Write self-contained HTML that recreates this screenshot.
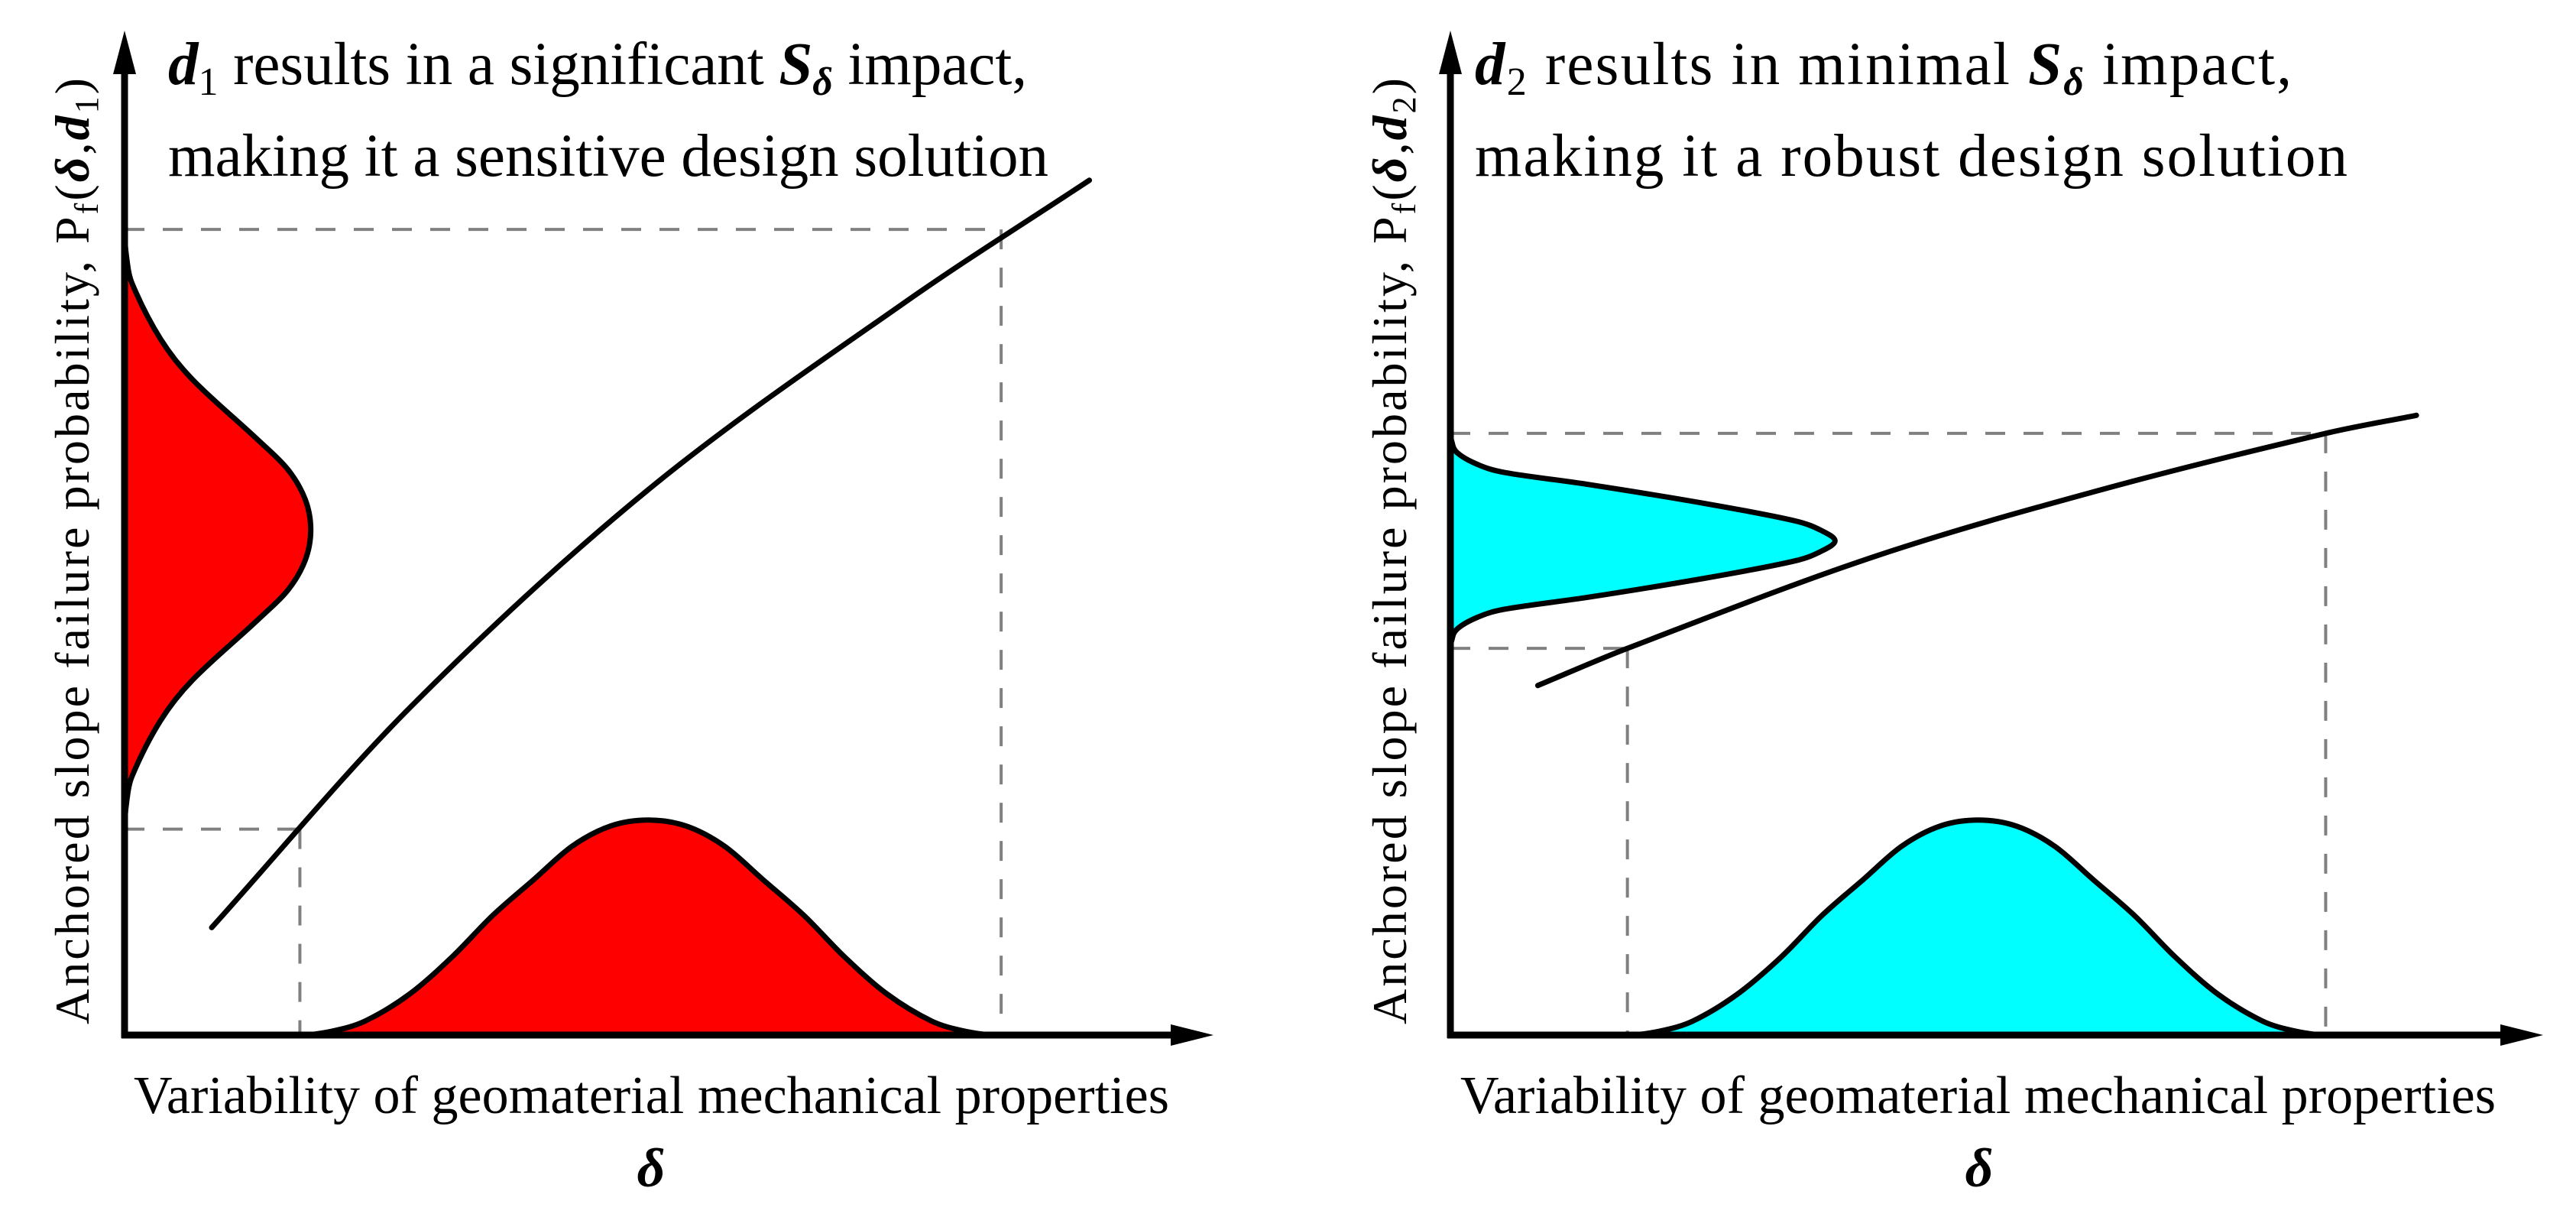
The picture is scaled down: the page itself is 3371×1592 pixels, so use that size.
<!DOCTYPE html>
<html><head><meta charset="utf-8"><style>
html,body{margin:0;padding:0;background:#fff}
svg{display:block}
text{font-family:"Liberation Serif","Times New Roman","DejaVu Serif",serif;fill:#000}
</style></head><body>
<svg id="fig" width="3371" height="1592" viewBox="0 0 3371 1592" xmlns="http://www.w3.org/2000/svg" font-family="Liberation Serif, Times New Roman, DejaVu Serif, serif">
<g id="left"></g>
<g id="right"></g>
<text x="220" y="110" font-size="79" textLength="1124"><tspan font-weight="bold" font-style="italic">d</tspan><tspan font-size="52" dy="14">1</tspan><tspan dy="-14"> results in a significant </tspan><tspan font-weight="bold" font-style="italic">S</tspan><tspan font-size="52" dy="14" font-weight="bold" font-style="italic">δ</tspan><tspan dy="-14"> impact,</tspan></text>
<text x="220" y="230" font-size="79" textLength="1152">making it a sensitive design solution</text>
<text x="1930" y="110" font-size="79" textLength="1069"><tspan font-weight="bold" font-style="italic">d</tspan><tspan font-size="52" dy="14">2</tspan><tspan dy="-14"> results in minimal </tspan><tspan font-weight="bold" font-style="italic">S</tspan><tspan font-size="52" dy="14" font-weight="bold" font-style="italic">δ</tspan><tspan dy="-14"> impact,</tspan></text>
<text x="1930" y="230" font-size="79" textLength="1142">making it a robust design solution</text>
<text transform="translate(116,1340) rotate(-90)" font-size="64" textLength="1238">Anchored slope failure probability,  P<tspan font-size="44" dy="12">f</tspan><tspan dy="-12">(</tspan><tspan font-weight="bold" font-style="italic">δ</tspan>,<tspan font-weight="bold" font-style="italic">d</tspan><tspan font-size="44" dy="12">1</tspan><tspan dy="-12">)</tspan></text>
<text transform="translate(1840,1340) rotate(-90)" font-size="64" textLength="1238">Anchored slope failure probability,  P<tspan font-size="44" dy="12">f</tspan><tspan dy="-12">(</tspan><tspan font-weight="bold" font-style="italic">δ</tspan>,<tspan font-weight="bold" font-style="italic">d</tspan><tspan font-size="44" dy="12">2</tspan><tspan dy="-12">)</tspan></text>
<text x="175" y="1456" font-size="70" textLength="1355">Variability of geomaterial mechanical properties</text>
<text x="1911" y="1456" font-size="70" textLength="1355">Variability of geomaterial mechanical properties</text>
<text x="852" y="1552" font-size="72" font-weight="bold" font-style="italic" text-anchor="middle">δ</text>
<text x="2590" y="1552" font-size="72" font-weight="bold" font-style="italic" text-anchor="middle">δ</text>
</svg>
<script>
// Left panel data (units 0..10 on both axes)
const leftCurveX = [0.80, 2.63, 4.81, 7.16, 8.86];
const leftCurveY = [1.07, 3.27, 5.43, 7.29, 8.51];
const leftBottomBellX = [1.61, 1.91, 2.21, 2.62, 3.01, 3.38, 3.76, 4.11, 4.46, 4.81, 5.16, 5.51, 5.86, 6.24, 6.61, 7.00, 7.41, 7.71, 8.01];
const leftBottomBellD = [0, 0.04, 0.14, 0.41, 0.78, 1.19, 1.55, 1.88, 2.08, 2.14, 2.08, 1.88, 1.55, 1.19, 0.78, 0.41, 0.14, 0.04, 0];
const leftSideBellY = [8.03, 7.73, 7.48, 6.93, 6.53, 5.93, 5.63, 5.33, 5.03, 4.73, 4.43, 4.13, 3.53, 3.13, 2.58, 2.33, 2.03];
const leftSideBellD = [0, 0.02, 0.07, 0.33, 0.62, 1.22, 1.50, 1.66, 1.71, 1.66, 1.50, 1.22, 0.62, 0.33, 0.07, 0.02, 0];
const leftGuideX = [1.61, 8.05];
const leftGuideY = [2.05, 8.02];
// Right panel data
const rightCurveX = [0.80, 1.62, 3.87, 5.96, 8.01, 8.84];
const rightCurveY = [3.48, 3.85, 4.76, 5.43, 5.99, 6.17];
const rightBottomBellX = [1.62, 1.92, 2.22, 2.63, 3.03, 3.40, 3.78, 4.13, 4.48, 4.83, 5.18, 5.53, 5.88, 6.26, 6.63, 7.02, 7.43, 7.73, 8.03];
const rightBottomBellD = [0, 0.04, 0.14, 0.41, 0.78, 1.19, 1.55, 1.88, 2.08, 2.14, 2.08, 1.88, 1.55, 1.19, 0.78, 0.41, 0.14, 0.04, 0];
const rightSideBellY = [5.99, 5.92, 5.80, 5.68, 5.60, 5.48, 5.29, 5.12, 5.02, 4.92, 4.82, 4.72, 4.55, 4.36, 4.24, 4.16, 4.04, 3.92, 3.85];
const rightSideBellD = [0, 0.01, 0.06, 0.25, 0.50, 1.27, 2.34, 3.15, 3.40, 3.52, 3.40, 3.15, 2.34, 1.27, 0.50, 0.25, 0.06, 0.01, 0];
const rightGuideX = [1.62, 8.01];
const rightGuideY = [3.85, 5.99];

const NS = 'http://www.w3.org/2000/svg';
function mk(parent, tag, attrs) {
  const e = document.createElementNS(NS, tag);
  for (const k in attrs) e.setAttribute(k, attrs[k]);
  parent.appendChild(e);
  return e;
}
// smooth 1-D hermite: u = independent coordinate, w = dependent; swap flag for vertical bells
function smooth1d(u, w, swap, zeroEnds) {
  const n = u.length, m = [];
  for (let i = 0; i < n; i++) {
    if (i === 0 || i === n - 1) {
      if (zeroEnds) m.push(0);
      else { const j = i === 0 ? 1 : n - 1; m.push((w[j] - w[j - 1]) / (u[j] - u[j - 1])); }
    } else m.push((w[i + 1] - w[i - 1]) / (u[i + 1] - u[i - 1]));
  }
  const P = (a, b) => swap ? (b + ',' + a) : (a + ',' + b);
  let d = 'M' + P(u[0], w[0]);
  for (let i = 0; i < n - 1; i++) {
    const du = (u[i + 1] - u[i]) / 3;
    d += ' C' + P(u[i] + du, w[i] + m[i] * du) + ' ' + P(u[i + 1] - du, w[i + 1] - m[i + 1] * du) + ' ' + P(u[i + 1], w[i + 1]);
  }
  return d;
}
function panel(g, x0, x1, fill, cx, cy, bx, bd, sy, sd, gx, gy) {
  const yB = 1354, yT = 40;
  const xs = v => x0 + v * (x1 - x0) / 10;
  const ys = v => yB - v * (yB - yT) / 10;
  const dash = {stroke: '#808080', 'stroke-width': 4, 'stroke-dasharray': '26 24', fill: 'none'};
  for (let i = 0; i < gx.length; i++) {
    const h = mk(g, 'line', Object.assign({x1: xs(0), y1: ys(gy[i]), x2: xs(gx[i]), y2: ys(gy[i])}, dash));
    
    
    const v = mk(g, 'line', Object.assign({x1: xs(gx[i]), y1: ys(gy[i]), x2: xs(gx[i]), y2: yB}, dash));
    
    
  }
  const b = mk(g, 'path', {d: smooth1d(bx.map(xs), bd.map(ys), false, true) + ' Z', fill: fill, stroke: '#000', 'stroke-width': 7, 'stroke-linejoin': 'round'});
  
  
  const s = mk(g, 'path', {d: smooth1d(sy.map(ys), sd.map(xs), true, true) + ' Z', fill: fill, stroke: '#000', 'stroke-width': 7, 'stroke-linejoin': 'round'});
  
  
  const c = mk(g, 'path', {d: smooth1d(cx.map(xs), cy.map(ys), false, false), fill: 'none', stroke: '#000', 'stroke-width': 7, 'stroke-linecap': 'round'});
  
  
  const ya = mk(g, 'line', {x1: x0, y1: yB + 4, x2: x0, y2: 90, stroke: '#000', 'stroke-width': 9});
  
  
  const yh = mk(g, 'polygon', {points: (x0 - 15) + ',97 ' + x0 + ',40 ' + (x0 + 15) + ',97', fill: '#000'});
  
  
  const xa = mk(g, 'line', {x1: x0 - 4, y1: yB, x2: x1 - 50, y2: yB, stroke: '#000', 'stroke-width': 9});
  
  
  const xh = mk(g, 'polygon', {points: (x1 - 56) + ',' + (yB - 14) + ' ' + x1 + ',' + yB + ' ' + (x1 - 56) + ',' + (yB + 14), fill: '#000'});
  
  
}
panel(document.getElementById('left'), 163, 1588, '#ff0000', leftCurveX, leftCurveY, leftBottomBellX, leftBottomBellD, leftSideBellY, leftSideBellD, leftGuideX, leftGuideY);
panel(document.getElementById('right'), 1898, 3328, '#00ffff', rightCurveX, rightCurveY, rightBottomBellX, rightBottomBellD, rightSideBellY, rightSideBellD, rightGuideX, rightGuideY);
</script>
</body></html>
